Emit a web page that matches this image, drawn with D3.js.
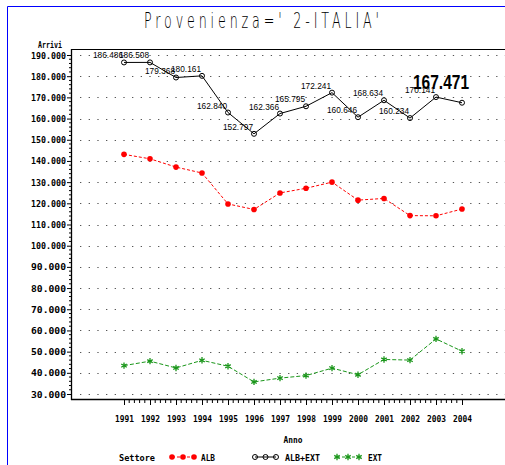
<!DOCTYPE html>
<html><head><meta charset="utf-8">
<script src="https://cdn.jsdelivr.net/npm/d3@7"></script>
<style>
html,body{margin:0;padding:0;background:#fff;overflow:hidden}
svg{display:block}
</style></head>
<body>
<svg id="c" width="505" height="465"></svg>
<script>
const years = [1991,1992,1993,1994,1995,1996,1997,1998,1999,2000,2001,2002,2003,2004];
const alb    = [143.1,141.0,137.1,134.3,119.7,117.1,124.9,127.1,130.0,121.5,122.3,114.2,114.1,117.3];
const ext    = [43.4,45.5,42.3,45.9,43.1,35.7,37.5,38.7,42.2,39.1,46.3,46.0,56.0,50.2];
const totale = [186.486,186.508,179.368,180.161,162.840,152.797,162.366,165.795,172.241,160.646,168.634,160.234,170.141,167.471];
const totLabels = ["186.486","186.508","179.368","180.161","162.840","152.797","162.366","165.795","172.241","160.646","168.634","160.234","170.141","167.471"];
const yTicks = [30,40,50,60,70,80,90,100,110,120,130,140,150,160,170,180,190];
const yTickLabels = yTicks.map(v => v + ".000");
const seriesNames = ["ALB","ALB+EXT","EXT"];
const title = "Provenienza=' 2-ITALIA'";

const svg = d3.select("#c");
const pL = 71, pT = 49, pB = 399, pR = 520;
const x = d3.scaleLinear().domain([1991,2004]).range([124,462]);
const y = d3.scaleLinear().domain([30,190]).range([394,55]);

// blue frame
svg.append("line").attr("x1",7.5).attr("x2",7.5).attr("y1",6.5).attr("y2",470).attr("stroke","#0000ff").attr("stroke-width",1);
svg.append("line").attr("x1",7.5).attr("x2",510).attr("y1",6.5).attr("y2",6.5).attr("stroke","#0000ff").attr("stroke-width",1);

// title (thin, narrow glyphs with wide spacing)
svg.append("text").attr("transform","translate(144,28) scale(0.62,1)")
  .attr("x",0).attr("y",0).attr("textLength",235/0.62).attr("lengthAdjust","spacing")
  .attr("font-family","'DejaVu Sans',sans-serif").attr("font-weight",200).attr("font-size",20.5)
  .attr("fill","#000").text(title);

// grid
svg.append("g").selectAll("line").data(yTicks).join("line")
  .attr("x1",80).attr("x2",pR).attr("y1",d=>Math.round(y(d))+0.5).attr("y2",d=>Math.round(y(d))+0.5)
  .attr("stroke","#555").attr("stroke-width",1.2).attr("stroke-dasharray","1.3,7.37");

// frame lines
svg.append("line").attr("x1",pL).attr("x2",pR).attr("y1",pT+0.5).attr("y2",pT+0.5).attr("stroke","#000");
svg.append("line").attr("x1",pL).attr("x2",pR).attr("y1",pB+0.5).attr("y2",pB+0.5).attr("stroke","#000").attr("stroke-width",1.3);
svg.append("line").attr("x1",pL+0.5).attr("x2",pL+0.5).attr("y1",pT).attr("y2",pB+1).attr("stroke","#000").attr("stroke-width",1.3);

// y axis
const yAxis = d3.axisLeft(y).tickValues(yTicks).tickSize(4).tickFormat((d,i)=>yTickLabels[i]);
const gy = svg.append("g").attr("transform",`translate(${pL},0)`).call(yAxis);
gy.select(".domain").remove();
gy.selectAll("text").attr("font-family","'DejaVu Sans Mono',monospace").attr("font-weight","bold")
  .attr("font-size",9.5).attr("x",-5).attr("textLength",35).attr("lengthAdjust","spacingAndGlyphs");
const yMinor = d3.range(30,190,2).filter(v => v % 10 !== 0);
svg.append("g").selectAll("line").data(yMinor).join("line")
  .attr("x1",pL-2).attr("x2",pL).attr("y1",d=>y(d)).attr("y2",d=>y(d)).attr("stroke","#000");

svg.append("text").attr("x",50).attr("y",48).attr("text-anchor","middle")
  .attr("font-family","'DejaVu Sans Mono',monospace").attr("font-size",9.5).attr("font-weight","bold")
  .attr("textLength",24).attr("lengthAdjust","spacingAndGlyphs").text("Arrivi");

// x axis
const xAxis = d3.axisBottom(x).tickValues(years).tickSize(6).tickFormat(d3.format("d"));
const gx = svg.append("g").attr("transform",`translate(0,${pB})`).call(xAxis);
gx.select(".domain").remove();
gx.selectAll("text").attr("font-family","'DejaVu Sans Mono',monospace").attr("font-weight","bold")
  .attr("font-size",9.5).attr("y",16).attr("textLength",19).attr("lengthAdjust","spacingAndGlyphs");
const xMinor = [];
years.slice(0,-1).forEach(yr => { for (let k=1;k<5;k++) xMinor.push(yr + k/5); });
svg.append("g").selectAll("line").data(xMinor).join("line")
  .attr("x1",d=>x(d)).attr("x2",d=>x(d)).attr("y1",pB).attr("y2",pB+4).attr("stroke","#000");

svg.append("text").attr("x",293).attr("y",443).attr("text-anchor","middle")
  .attr("font-family","'DejaVu Sans Mono',monospace").attr("font-size",9.5).attr("font-weight","bold")
  .attr("textLength",19).attr("lengthAdjust","spacingAndGlyphs").text("Anno");

// lines
const line = d3.line().x((d,i)=>x(years[i])).y(d=>y(d));
svg.append("path").attr("d",line(alb)).attr("fill","none").attr("stroke","#ff0000").attr("stroke-width",1).attr("stroke-dasharray","3,2");
svg.append("path").attr("d",line(ext)).attr("fill","none").attr("stroke","#1a961a").attr("stroke-width",1).attr("stroke-dasharray","4,2");
svg.append("path").attr("d",line(totale)).attr("fill","none").attr("stroke","#000").attr("stroke-width",1);

// markers
svg.append("g").selectAll("circle").data(alb).join("circle")
  .attr("cx",(d,i)=>x(years[i])).attr("cy",d=>y(d)).attr("r",2.8).attr("fill","#ff0000");
svg.append("g").selectAll("circle").data(totale).join("circle")
  .attr("cx",(d,i)=>x(years[i])).attr("cy",d=>y(d)).attr("r",2.5).attr("fill","none").attr("stroke","#000");
const star = d3.symbol().type(d3.symbolAsterisk).size(28);
svg.append("g").selectAll("path").data(ext).join("path")
  .attr("transform",(d,i)=>`translate(${x(years[i])},${y(d)})`).attr("d",star)
  .attr("fill","none").attr("stroke","#1a961a").attr("stroke-width",1.3);

// labels
svg.append("g").selectAll("text").data(totale.slice(0,-1)).join("text")
  .attr("x",(d,i)=>x(years[i])-1).attr("y",d=>y(d)-4).attr("text-anchor","end")
  .attr("font-family","'Liberation Sans',Arial,sans-serif").attr("font-size",9.5)
  .attr("textLength",30).attr("lengthAdjust","spacingAndGlyphs")
  .text((d,i)=>totLabels[i]);
const li = totale.length-1;
svg.append("text").attr("x",x(years[li])+7).attr("y",y(totale[li])-14).attr("text-anchor","end")
  .attr("font-family","'Liberation Sans',Arial,sans-serif").attr("font-size",20).attr("font-weight","bold")
  .attr("textLength",56).attr("lengthAdjust","spacingAndGlyphs").text(totLabels[li]);

// legend
const ly = 457;
const lf = (sel)=>sel.attr("font-family","'DejaVu Sans Mono',monospace").attr("font-size",9.5).attr("font-weight","bold");
lf(svg.append("text").attr("x",119).attr("y",ly+4).attr("textLength",36).attr("lengthAdjust","spacingAndGlyphs").text("Settore"));
const legendItems = [
  {name:seriesNames[0], xs:[172,183,194], tx:201, tl:14},
  {name:seriesNames[1], xs:[255,265.5,276], tx:285, tl:35},
  {name:seriesNames[2], xs:[337,348,359], tx:368, tl:14}
];
legendItems.forEach((it,k)=>{
  const g = svg.append("g");
  const ln = g.append("line").attr("x1",it.xs[0]).attr("x2",it.xs[2]).attr("y1",ly).attr("y2",ly);
  if (k===0) { ln.attr("stroke","#ff0000").attr("stroke-dasharray","3,2");
    g.selectAll("circle").data(it.xs).join("circle").attr("cx",d=>d).attr("cy",ly).attr("r",2.8).attr("fill","#ff0000"); }
  if (k===1) { ln.attr("stroke","#000");
    g.selectAll("circle").data(it.xs).join("circle").attr("cx",d=>d).attr("cy",ly).attr("r",2.5).attr("fill","none").attr("stroke","#000"); }
  if (k===2) { ln.attr("stroke","#1a961a").attr("stroke-dasharray","3,2");
    g.selectAll("path").data(it.xs).join("path").attr("transform",d=>`translate(${d},${ly})`).attr("d",star)
      .attr("fill","none").attr("stroke","#1a961a").attr("stroke-width",1.3); }
  lf(g.append("text").attr("x",it.tx).attr("y",ly+4).attr("textLength",it.tl).attr("lengthAdjust","spacingAndGlyphs").text(it.name));
});
</script>
</body></html>
